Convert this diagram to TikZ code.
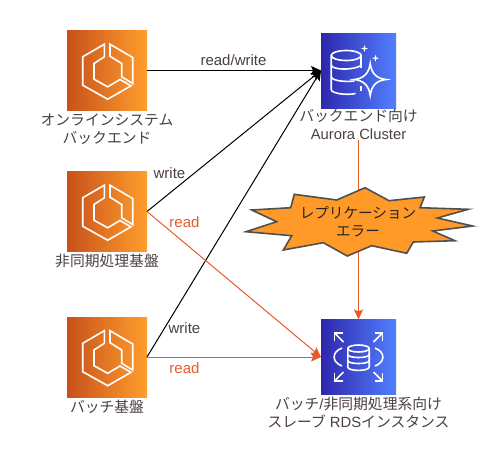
\documentclass[tikz,border=0pt]{standalone}
\usepackage{fontspec}
\setmainfont{Liberation Sans}
\newfontfamily\cjk{Noto Sans CJK JP}
\usetikzlibrary{arrows.meta, positioning}
\definecolor{awsorange}{HTML}{FF9E2C}
\definecolor{awsrust}{HTML}{C8511B}
\definecolor{awsblue}{HTML}{527FFF}
\definecolor{awsindigo}{HTML}{2E27AD}
\definecolor{readred}{HTML}{E85A2A}
\definecolor{labelgray}{HTML}{4B3F3F}
\definecolor{burstfill}{HTML}{FF9A28}
\definecolor{burstline}{HTML}{505050}
\tikzset{
    ecsicon/.style={rectangle, minimum size=80pt, inner sep=0pt, outer sep=0pt, left color=awsrust, right color=awsorange},
    dbicon/.style={rectangle, minimum size=75pt, inner sep=0pt, outer sep=0pt, left color=awsindigo, right color=awsblue},
    glyph/.style={draw=white, line width=1.6pt, line join=miter},
    caption/.style={align=center, text=labelgray, font=\fontsize{14.8}{18}\selectfont, inner sep=0pt},
    edgetext/.style={text=labelgray, font=\fontsize{15}{17}\selectfont, inner sep=0pt},
    readtext/.style={text=readred, font=\fontsize{15}{17}\selectfont, inner sep=0pt},
    writeline/.style={draw=black, line width=1pt, -{Stealth[length=10pt, width=9pt, inset=2pt]}},
    readline/.style={draw=readred, line width=1pt, -{Stealth[length=10pt, width=9pt, inset=2pt]}},
    pics/ecsglyph/.style={code={
        \draw[glyph] (-2.7,-26.3) -- (-24.3,-13.7) -- (-24.3,14.7) -- (0.7,28.7) -- (24,15.3) -- (13,9) -- (0.7,16.3) -- (-13,8.7) -- (-13,-7) -- (-2.7,-13.7) -- cycle;
        \draw[glyph] (3,-26.3) -- (25.7,-13) -- (25.7,13) -- (14.7,6.3) -- (14.7,-7) -- (3,-14.3) -- cycle;
    }},
    pics/auroraglyph/.style={code={
        \draw[glyph] (-12.3,-15) ellipse (15 and 5);
        \draw[glyph] (-27.3,-15) -- (-27.3,19) .. controls (-27.3,23) and (-12,25) .. (-3,23);
        \draw[glyph] (2.7,-15) -- (2.7,-3);
        \draw[glyph] (-27.3,-5) .. controls (-25,-0.5) and (-6,0) .. (2.7,-5);
        \draw[glyph] (-27.3,6.7) .. controls (-25,10.5) and (-14,11.5) .. (-4,10.5);
        \draw[glyph] (2.7,15) -- (2.7,20);
        \draw[glyph] (11.7,-7) .. controls (13,3) and (18,8) .. (27.7,9) .. controls (18,10) and (13,15) .. (11.7,25) .. controls (10.4,15) and (5,10) .. (-4.3,9) .. controls (5,8) and (10.4,3) .. cycle;
        \foreach \sx/\sy in {6/-22, 17/-12.3} {
            \fill[white] (\sx,\sy-3.5) -- (\sx+0.8,\sy-0.8) -- (\sx+3.5,\sy) -- (\sx+0.8,\sy+0.8) -- (\sx,\sy+3.5) -- (\sx-0.8,\sy+0.8) -- (\sx-3.5,\sy) -- (\sx-0.8,\sy-0.8) -- cycle;
        }
    }},
    pics/rdsglyph/.style={code={
        \draw[glyph] (0,-8.5) ellipse (10.7 and 3.5);
        \draw[glyph] (-10.7,-8.5) -- (-10.7,10) .. controls (-10.7,14.5) and (10.7,14.5) .. (10.7,10) -- (10.7,-8.5);
        \draw[glyph] (-10.7,-2.5) .. controls (-10.7,1.5) and (10.7,1.5) .. (10.7,-2.5);
        \draw[glyph] (-10.7,3.5) .. controls (-10.7,7.5) and (10.7,7.5) .. (10.7,3.5);
        \draw[glyph] (-16.5,-9) .. controls (-27,-5) and (-27,5) .. (-16.5,9);
        \draw[glyph] (16.5,-9) .. controls (27,-5) and (27,5) .. (16.5,9);
        \foreach \sx/\sy in {-1/-1, 1/-1, -1/1, 1/1} {
            \draw[glyph] (\sx*15,\sy*15) -- (\sx*24,\sy*24);
            \draw[glyph] (\sx*24,\sy*16) -- (\sx*24,\sy*24) -- (\sx*16,\sy*24);
        }
    }}
}

\begin{document}
\begin{tikzpicture}[x=1pt, y=-1pt]
    \useasboundingbox (0,0) rectangle (503,456);

    \node[ecsicon] (online) at (107,70.5) {};
    \node[ecsicon, below=61pt of online] (async) {};
    \node[ecsicon, below=65.5pt of async] (batch) {};
    \node[dbicon, right=174pt of online] (aurora) {};
    \node[dbicon, below=211.5pt of aurora] (rds) {};

    \pic at (online) {ecsglyph};
    \pic at (async) {ecsglyph};
    \pic at (batch) {ecsglyph};
    \pic at (aurora) {auroraglyph};
    \pic at (rds) {rdsglyph};

    \node[caption, below=3pt of online] (onlinelabel) {\cjk オンラインシステム\\\cjk バックエンド};
    \node[caption, below=2pt of async] (asynclabel) {\cjk 非同期処理基盤};
    \node[caption, below=3pt of batch] (batchlabel) {\cjk バッチ基盤};
    \node[caption, below=1pt of aurora] (auroralabel) {\cjk バックエンド向け\\Aurora Cluster};
    \node[caption, below=2pt of rds] (rdslabel) {{\cjk バッチ}/{\cjk 非同期処理系向け}\\{\cjk スレーブ} RDS{\cjk インスタンス}};

    \draw[writeline] (online.east) -- (aurora.west);
    \draw[writeline] (async.east) -- (aurora.west);
    \draw[writeline] (batch.east) -- (aurora.west);
    \draw[readline] (async.east) -- (rds.west);
    \draw[readline] (batch.east) -- (rds.west);
    \draw[readline] (auroralabel.south) -- (rds.north);

    \node[edgetext] (rwlabel) at (233.5,60) {read/write};
    \node[edgetext] (asyncwrite) at (169.5,173) {write};
    \node[readtext] (asyncread) at (184.5,222) {read};
    \node[edgetext] (batchwrite) at (184.5,328) {write};
    \node[readtext] (batchread) at (184.5,368) {read};

    \draw[draw=burstline, fill=burstfill, line width=1.6pt, line join=miter] (365,187.7) -- (389,200.7) -- (424.3,197) -- (420,207.7) -- (468.3,209.3) -- (437.3,218) -- (472.7,226) -- (432.7,231) -- (455,240.7) -- (413.3,242) -- (406.7,253.3) -- (371.7,245.7) -- (347.3,256) -- (323.3,242.7) -- (283.3,250) -- (291.7,235.7) -- (246,231.7) -- (276.7,221.7) -- (251.7,210) -- (290.7,207.7) -- (294.3,194.3) -- (336.7,200) -- cycle;
    \node[align=center, text=black!85, font=\fontsize{14.6}{18}\selectfont, inner sep=0pt] (errorlabel) at (358,222) {\cjk レプリケーション\\\cjk エラー};
\end{tikzpicture}
\end{document}
